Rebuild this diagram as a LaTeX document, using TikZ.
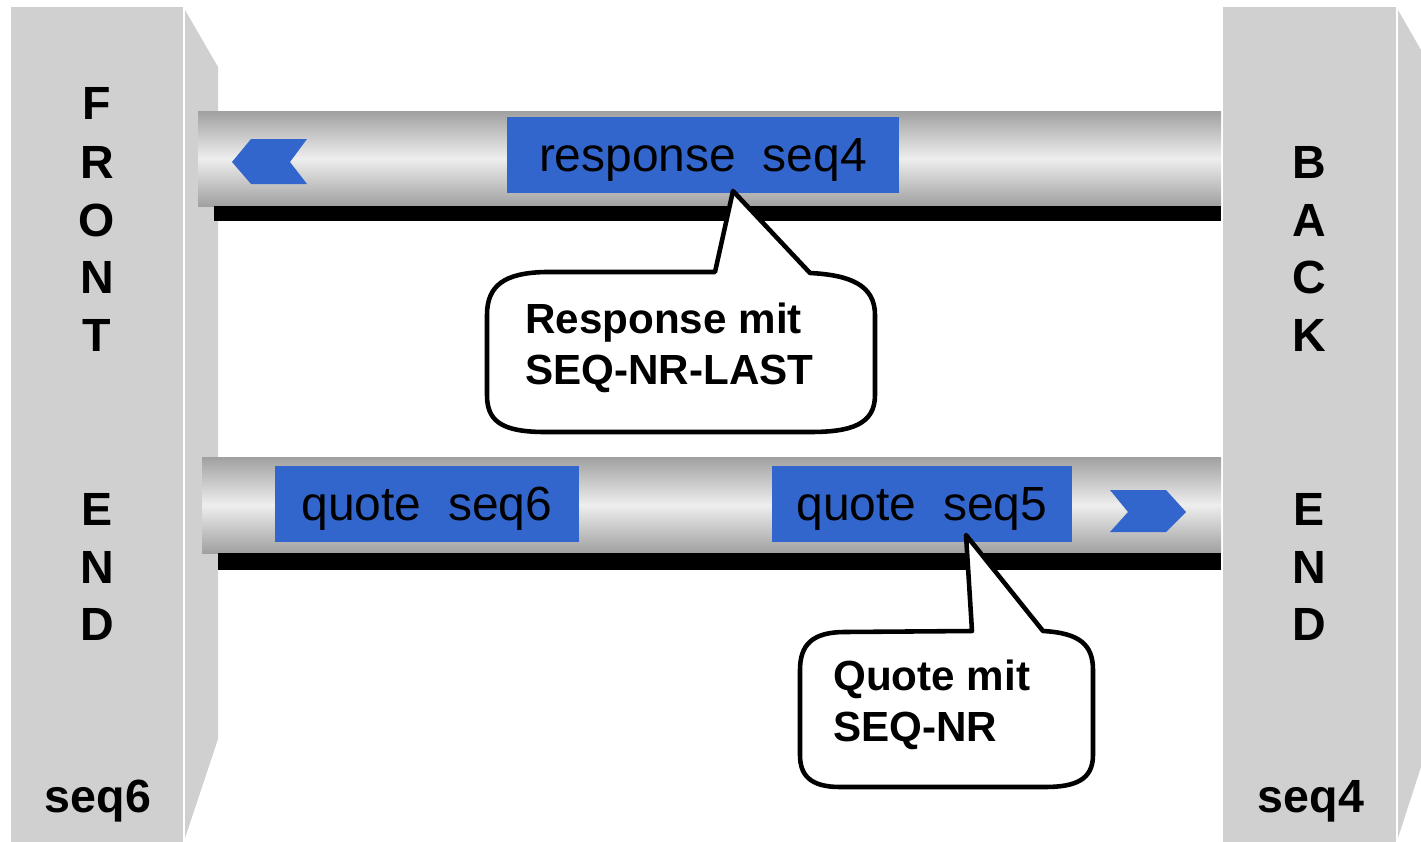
\documentclass[tikz,border=0pt]{standalone}
\usepackage{fontspec}
\setmainfont{Liberation Sans}
\definecolor{wallgray}{HTML}{D0D0D0}
\definecolor{pipedark}{HTML}{A0A0A0}
\definecolor{pipelight}{HTML}{EEEEEE}
\definecolor{msgblue}{HTML}{3366CC}
\tikzset{
  wall/.style={fill=wallgray},
  pipe/.style={top color=pipedark, bottom color=pipedark, middle color=pipelight},
  msg/.style={fill=msgblue, inner sep=0pt, text depth=0pt, minimum height=1.54cm, font=\fontsize{27.3}{30}\selectfont},
  chevron/.style={fill=msgblue},
  letter/.style={inner sep=0pt, font=\bfseries\fontsize{26.5}{30}\selectfont},
  bubble/.style={draw=black, fill=white, line width=2.6pt, line join=round},
  bubbletext/.style={anchor=base west, inner sep=0pt, font=\bfseries\fontsize{24}{28}\selectfont}
}
\begin{document}
\begin{tikzpicture}[x=0.02cm, y=-0.02cm]
	\useasboundingbox (0,0) rectangle (1421,842);
	% front end wall
	\fill[wall] (11,7) rectangle (183,842);
	\fill[wall] (185,10) -- (218,67) -- (218,739) -- (185,838) -- cycle;
	% back end wall
	\fill[wall] (1223,7) rectangle (1396,842);
	\fill[wall] (1398,10) -- (1421,50) -- (1421,767) -- (1398,838) -- cycle;
	% letters
	\node[letter] (f1) at (97,103) {F};
	\node[letter] (f2) at (97,162) {R};
	\node[letter] (f3) at (97,220) {O};
	\node[letter] (f4) at (97,277) {N};
	\node[letter] (f5) at (97,335) {T};
	\node[letter] (f6) at (97,509) {E};
	\node[letter] (f7) at (97,567) {N};
	\node[letter] (f8) at (97,624) {D};
	\node[letter, anchor=base] (fseq) at (98,812) {seq6};
	\node[letter] (b1) at (1309,162) {B};
	\node[letter] (b2) at (1309,220) {A};
	\node[letter] (b3) at (1309,277) {C};
	\node[letter] (b4) at (1309,335) {K};
	\node[letter] (b5) at (1309,509) {E};
	\node[letter] (b6) at (1309,567) {N};
	\node[letter] (b7) at (1309,624) {D};
	\node[letter, anchor=base] (bseq) at (1311,812) {seq4};
	% upper pipe
	\shade[pipe] (198,111) rectangle (1221,206);
	\fill[black] (214,206) rectangle (1221,221);
	\fill[chevron] (232,162) -- (251,139) -- (307,139) -- (290,162) -- (307,184) -- (251,184) -- cycle;
	\node[msg, minimum width=7.84cm] (resp) at (703,155) {response~~seq4};
	% lower pipe
	\shade[pipe] (202,457) rectangle (1221,553);
	\fill[black] (218,553) rectangle (1221,570);
	\node[msg, minimum width=6.08cm] (quote6) at (427,504) {quote~~seq6};
	\node[msg, minimum width=6cm] (quote5) at (922,504) {quote~~seq5};
	\fill[chevron] (1110,490) -- (1166,490) -- (1186,512) -- (1166,532) -- (1110,532) -- (1128,512) -- cycle;
	% callouts
	\coordinate (tipA) at (733,191);
	\draw[bubble] (715,272) -- (tipA) -- (810,273) .. controls (850,275) and (875,285) .. (875,315) -- (875,395) .. controls (875,425) and (850,432) .. (810,432) -- (545,432) .. controls (500,432) and (487,420) .. (487,395) -- (487,315) .. controls (487,285) and (505,273) .. (545,272) -- cycle;
	\node[bubbletext] (respA) at (525,333) {Response mit};
	\node[bubbletext] (respB) at (525,384) {SEQ-NR-LAST};
	\coordinate (tipB) at (966,535);
	\draw[bubble] (972,631) -- (tipB) -- (1043,631) .. controls (1080,633) and (1093,645) .. (1093,670) -- (1093,755) .. controls (1093,780) and (1075,787) .. (1045,787) -- (840,787) .. controls (810,787) and (800,775) .. (800,755) -- (800,670) .. controls (800,645) and (812,632) .. (845,632) -- cycle;
	\node[bubbletext] (quoteA) at (833,690) {Quote mit};
	\node[bubbletext] (quoteB) at (833,741) {SEQ-NR};
\end{tikzpicture}
\end{document}
